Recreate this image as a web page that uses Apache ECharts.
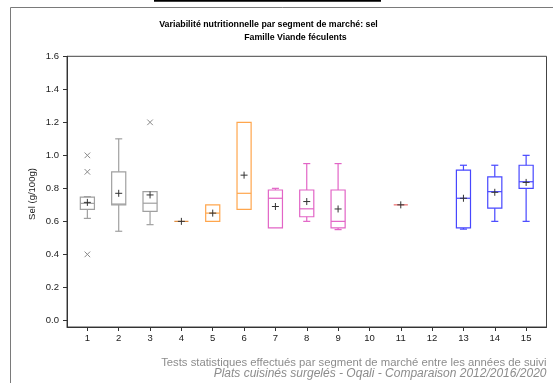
<!DOCTYPE html>
<html>
<head>
<meta charset="utf-8">
<script src="https://cdn.jsdelivr.net/npm/echarts@6/dist/echarts.min.js"></script>
<style>html,body{margin:0;padding:0;background:#fff}#c{width:553px;height:383px}</style>
</head>
<body>
<div id="c"></div>
<script>
// ---- data ----
const categories = [1, 2, 3, 4, 5, 6, 7, 8, 9, 10, 11, 12, 13, 14, 15];
const whiskerLow  = [0.618, 0.54, 0.58, 0.60, 0.60, 0.673, 0.56, 0.60, 0.55, null, 0.70, null, 0.553, 0.60, 0.60];
const q1          = [0.673, 0.70, 0.66, 0.60, 0.60, 0.673, 0.56, 0.628, 0.56, null, 0.70, null, 0.56, 0.68, 0.80];
const median      = [0.709, 0.705, 0.71, 0.60, 0.65, 0.77, 0.74, 0.676, 0.60, null, 0.70, null, 0.74, 0.78, 0.84];
const q3          = [0.747, 0.90, 0.78, 0.60, 0.70, 1.20, 0.79, 0.79, 0.79, null, 0.70, null, 0.91, 0.87, 0.94];
const whiskerHigh = [0.75, 1.10, 0.78, 0.60, 0.70, 1.20, 0.80, 0.95, 0.95, null, 0.70, null, 0.94, 0.94, 1.00];
const means       = [0.715, 0.77, 0.76, 0.60, 0.65, 0.88, 0.69, 0.72, 0.675, null, 0.70, null, 0.74, 0.776, 0.836];
const outlierCat  = [1, 1, 1, 3];
const outlierVal  = [1.00, 0.90, 0.40, 1.20];
const yTicks = [0, 0.2, 0.4, 0.6, 0.8, 1.0, 1.2, 1.4, 1.6];

// ---- styles ----
const groupColor = ['#a0a0a0','#a0a0a0','#a0a0a0','#e08a3a','#ffa64d','#ffa64d','#e264c6','#e264c6','#e264c6','#000','#ee6a6a','#000','#4747ff','#4747ff','#4747ff'];

const boxData = categories.map((c, i) => [c, whiskerLow[i], q1[i], median[i], q3[i], whiskerHigh[i], means[i]])
  .filter(r => r[3] !== null);
const outlierData = outlierCat.map((c, i) => [c, outlierVal[i]]);

function ok(v) { return v !== null && v !== undefined && !isNaN(v); }

function renderBox(params, api) {
  const x = api.value(0);
  const idx = categories.indexOf(x);
  const color = groupColor[idx];
  const hw = api.size([1, 0])[0] * 0.225;
  const cap = hw * 0.5;
  const px = api.coord([x, 0])[0];
  const Y = v => api.coord([x, v])[1];
  const wl = api.value(1), b1 = api.value(2), md = api.value(3), b3 = api.value(4), wh = api.value(5), mn = api.value(6);
  const st = { stroke: color, lineWidth: 1.2, fill: null };
  const children = [];
  if (ok(wh) && wh > b3) {
    children.push({ type: 'line', shape: { x1: px, y1: Y(b3), x2: px, y2: Y(wh) }, style: st });
    children.push({ type: 'line', shape: { x1: px - cap, y1: Y(wh), x2: px + cap, y2: Y(wh) }, style: st });
  }
  if (ok(wl) && wl < b1) {
    children.push({ type: 'line', shape: { x1: px, y1: Y(b1), x2: px, y2: Y(wl) }, style: st });
    children.push({ type: 'line', shape: { x1: px - cap, y1: Y(wl), x2: px + cap, y2: Y(wl) }, style: st });
  }
  if (b3 > b1) {
    children.push({ type: 'rect', shape: { x: px - hw, y: Y(b3), width: 2 * hw, height: Y(b1) - Y(b3) }, style: { stroke: color, lineWidth: 1.2, fill: 'rgba(255,255,255,0)' } });
  }
  children.push({ type: 'line', shape: { x1: px - hw, y1: Y(md), x2: px + hw, y2: Y(md) }, style: st });
  if (ok(mn)) {
    const my = Y(mn), s = 3.5;
    const ms = { stroke: '#333', lineWidth: 1 };
    children.push({ type: 'line', shape: { x1: px - s, y1: my, x2: px + s, y2: my }, style: ms });
    children.push({ type: 'line', shape: { x1: px, y1: my - s, x2: px, y2: my + s }, style: ms });
  }
  return { type: 'group', children };
}

function renderOutlier(params, api) {
  const p = api.coord([api.value(0), api.value(1)]);
  const s = 2.8;
  const ms = { stroke: '#8a8a8a', lineWidth: 1 };
  return { type: 'group', children: [
    { type: 'line', shape: { x1: p[0] - s, y1: p[1] - s, x2: p[0] + s, y2: p[1] + s }, style: ms },
    { type: 'line', shape: { x1: p[0] - s, y1: p[1] + s, x2: p[0] + s, y2: p[1] - s }, style: ms }
  ]};
}

const chart = echarts.init(document.getElementById('c'), null, { renderer: 'canvas' });
const font = 'Liberation Sans, Arial, sans-serif';
chart.setOption({
  animation: false,
  backgroundColor: '#fff',
  textStyle: { fontFamily: font },
  grid: { left: 67, right: 6.5, top: 56.3, bottom: 56, show: true, borderColor: '#444', borderWidth: 1, backgroundColor: 'transparent' },
  xAxis: {
    type: 'value', min: 0.35, max: 15.65,
    splitLine: { show: false },
    axisLine: { show: true, onZero: false, lineStyle: { color: '#333', width: 1 } },
    axisTick: { show: true, length: 4, customValues: categories, lineStyle: { color: '#333' } },
    axisLabel: { customValues: categories, color: '#222', fontSize: 9.5, margin: 6, fontFamily: font }
  },
  yAxis: {
    type: 'value', min: -0.04, max: 1.6,
    splitLine: { show: false },
    axisLine: { show: true, onZero: false, lineStyle: { color: '#333', width: 1 } },
    axisTick: { show: true, length: 4, customValues: yTicks, lineStyle: { color: '#333' } },
    axisLabel: { customValues: yTicks, color: '#222', fontSize: 9.5, margin: 8, fontFamily: font, formatter: v => v.toFixed(1) }
  },
  graphic: [
    { type: 'rect', shape: { x: 154, y: 0, width: 227, height: 1.8 }, style: { fill: '#000' } },
    { type: 'rect', shape: { x: 10.5, y: 7.5, width: 560, height: 400 }, style: { fill: null, stroke: '#7a7a7a', lineWidth: 1 }, z: -1 },
    { type: 'text', x: 268.5, y: 25, style: { text: 'Variabilité nutritionnelle par segment de marché: sel', font: 'bold 8.8px ' + font, fill: '#000', textAlign: 'center', textVerticalAlign: 'middle' } },
    { type: 'text', x: 295.5, y: 38, style: { text: 'Famille Viande féculents', font: 'bold 8.8px ' + font, fill: '#000', textAlign: 'center', textVerticalAlign: 'middle' } },
    { type: 'text', x: 32, y: 194, rotation: Math.PI / 2, style: { text: 'Sel (g/100g)', font: '9.5px ' + font, fill: '#222', textAlign: 'center', textVerticalAlign: 'middle' } },
    { type: 'text', x: 546.5, y: 362.5, style: { text: 'Tests statistiques effectués par segment de marché entre les années de suivi', font: '11.3px ' + font, fill: '#8c8c8c', textAlign: 'right', textVerticalAlign: 'middle' } },
    { type: 'text', x: 546.5, y: 373.5, style: { text: 'Plats cuisinés surgelés - Oqali - Comparaison 2012/2016/2020', font: 'italic 12px ' + font, fill: '#8c8c8c', textAlign: 'right', textVerticalAlign: 'middle' } }
  ],
  series: [
    { type: 'custom', renderItem: renderBox, data: boxData, encode: { x: 0, y: [1, 2, 3, 4, 5] }, z: 3, clip: false },
    { type: 'custom', renderItem: renderOutlier, data: outlierData, encode: { x: 0, y: 1 }, z: 4 }
  ]
});
</script>
</body>
</html>
